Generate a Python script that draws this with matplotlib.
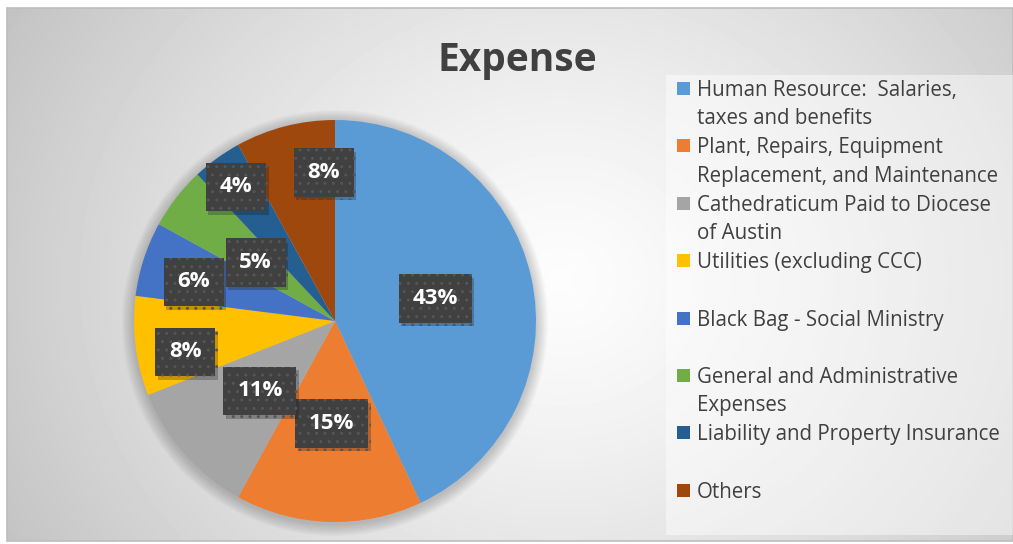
import numpy as np
import matplotlib.pyplot as plt
import matplotlib.patheffects as pe
from matplotlib.patches import Rectangle, Circle

# data
categories = [
    "Human Resource:  Salaries,\ntaxes and benefits",
    "Plant, Repairs, Equipment\nReplacement, and Maintenance",
    "Cathedraticum Paid to Diocese\nof Austin",
    "Utilities (excluding CCC)",
    "Black Bag - Social Ministry",
    "General and Administrative\nExpenses",
    "Liability and Property Insurance",
    "Others",
]
shares = [43, 15, 11, 8, 6, 5, 4, 8]
colors = ["#5B9BD5", "#ED7D31", "#A5A5A5", "#FFC000",
          "#4472C4", "#70AD47", "#255E91", "#9E480E"]
# radial position of each % box (fraction of radius), like Excel's best fit
label_dist = [0.51, 0.51, 0.51, 0.76, 0.73, 0.49, 0.83, 0.74]
label_shift = [0, 0, 1.5, 4.5, 2.5, 1.5, 0.5, -10]  # angular nudges, degrees

plt.rcParams['font.family'] = ['Open Sans', 'DejaVu Sans']

W, H = 1013, 544
fig = plt.figure(figsize=(W / 100, H / 100), dpi=100)
fig.patch.set_facecolor("white")

# --- gradient background -----------------------------------------------------
bg = fig.add_axes([0, 0, 1, 1])
bg.set_xlim(0, W)
bg.set_ylim(H, 0)
bg.axis("off")
x0, y0, x1, y1 = 7, 8, W, 541
xx, yy = np.meshgrid(np.arange(x0, x1), np.arange(y0, y1))
d = np.hypot(xx - 560, (yy - 280) * 1.15) / 620.0
val = 0.99 - 0.22 * np.clip(d, 0, 1.2) ** 1.3
bg.imshow(val, cmap="gray", vmin=0, vmax=1, extent=(x0, x1, y1, y0),
          interpolation="bilinear", aspect="auto")
bg.add_patch(Rectangle((x0, y0), x1 - x0, y1 - y0, fill=False,
                       edgecolor="#bdbdbd", lw=1.2))
# legend panel
bg.add_patch(Rectangle((666, 75), W - 666, 460, facecolor="white",
                       alpha=0.45, edgecolor="none"))

bg.text(517, 60, "Expense", ha="center", va="center", fontsize=28,
        fontweight="bold", color="#404040")

# legend entries drawn by hand
slot_y = 89
for cat, col in zip(categories, colors):
    bg.add_patch(Rectangle((677, slot_y - 7), 13, 13, facecolor=col,
                           edgecolor="none"))
    bg.text(697, slot_y - 9, cat, ha="left", va="top", fontsize=14.8,
            color="#404040", linespacing=1.45)
    slot_y += 57.4

# --- pie -----------------------------------------------------------------------
cx, cy, r = 335, 321, 201
ax = fig.add_axes([(cx - r) / W, (H - cy - r) / H, 2 * r / W, 2 * r / H])
ax.set_xlim(-1, 1)
ax.set_ylim(-1, 1)
ax.set_aspect("equal")
ax.axis("off")
# soft halo around the pie
for k in range(10):
    ax.add_patch(Circle((0, -0.01), 1.0 + 0.006 * (k + 1), facecolor="black",
                        alpha=0.018, edgecolor="none", clip_on=False))
wedges, _ = ax.pie(shares, colors=colors, startangle=90, counterclock=False,
                   radius=1, wedgeprops=dict(linewidth=0))
ax.set_xlim(-1, 1)
ax.set_ylim(-1, 1)

for w, s, dist, shift in zip(wedges, shares, label_dist, label_shift):
    ang = np.deg2rad((w.theta1 + w.theta2) / 2 + shift)
    lx, ly = dist * np.cos(ang), dist * np.sin(ang)
    t = ax.text(lx, ly, f"{s}%", ha="center", va="center", fontsize=16,
                fontweight="bold", color="white",
                bbox=dict(boxstyle="square,pad=0.62", facecolor="#404040",
                          edgecolor="#555555", linewidth=0, hatch=".."))
    t.get_bbox_patch().set_path_effects(
        [pe.SimplePatchShadow(offset=(2, -2.5), alpha=0.25), pe.Normal()])

fig.savefig("out.png", dpi=100)
